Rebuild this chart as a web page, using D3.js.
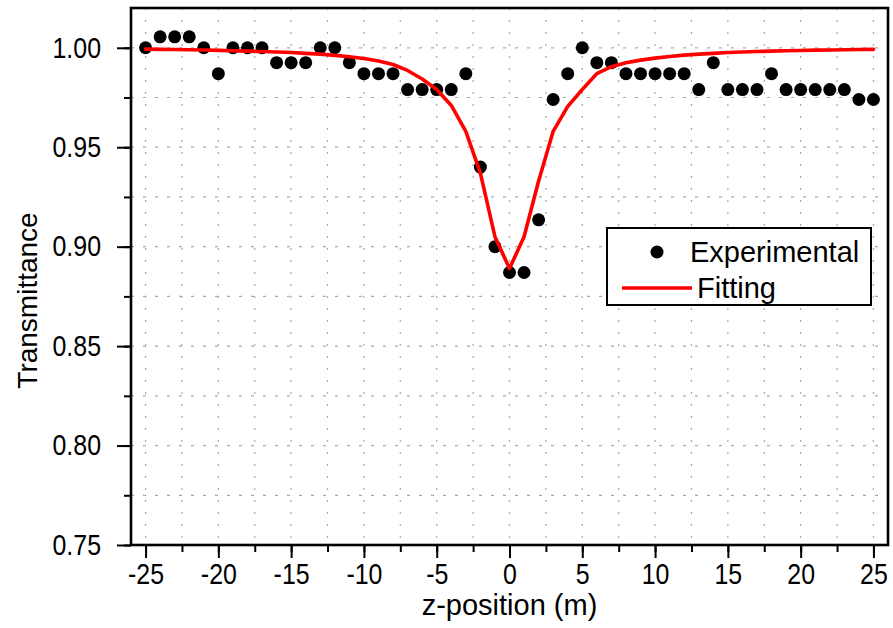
<!DOCTYPE html>
<html>
<head>
<meta charset="utf-8">
<script src="https://cdn.jsdelivr.net/npm/d3@7"></script>
<style>
  html, body { margin: 0; padding: 0; background: #fff; }
  svg { display: block; font-family: "Liberation Sans", Arial, sans-serif; }
</style>
</head>
<body>
<svg id="chart" width="893" height="628"></svg>
<script>
// z-scan positions (m)
const zPositions = d3.range(-25, 26);

// measured transmittance at each z position
const experimental = [
  1.000, 1.0055, 1.0055, 1.0055, 1.000, 0.987, 1.000, 1.000, 1.000, 0.9925,
  0.9925, 0.9925, 1.000, 1.000, 0.9925, 0.987, 0.987, 0.987, 0.979, 0.979,
  0.979, 0.979, 0.987, 0.940, 0.900, 0.887, 0.887, 0.9135, 0.974, 0.987,
  1.000, 0.9925, 0.9925, 0.987, 0.987, 0.987, 0.987, 0.987, 0.979, 0.9925,
  0.979, 0.979, 0.979, 0.987, 0.979, 0.979, 0.979, 0.979, 0.979, 0.974,
  0.974
];

// fitted transmittance at each z position
const fitting = [
  0.9993, 0.9992, 0.9991, 0.9990, 0.9989, 0.9987, 0.9985, 0.9983, 0.9981, 0.9979,
  0.9976, 0.9972, 0.9968, 0.9962, 0.9955, 0.9946, 0.9934, 0.9916, 0.9886, 0.9843,
  0.9790, 0.9710, 0.9580, 0.9370, 0.9050, 0.8890, 0.9050, 0.9330, 0.9580, 0.9705,
  0.9790, 0.9870, 0.9905, 0.9925, 0.9938, 0.9948, 0.9956, 0.9963, 0.9968, 0.9972,
  0.9976, 0.9979, 0.9981, 0.9983, 0.9985, 0.9986, 0.9988, 0.9989, 0.9990, 0.9991,
  0.9992
];

const xMajorTicks = [-25, -20, -15, -10, -5, 0, 5, 10, 15, 20, 25];
const xMinorTicks = d3.range(-25, 25.01, 2.5);
const yMajorTicks = [0.75, 0.80, 0.85, 0.90, 0.95, 1.00];
const yMinorTicks = d3.range(0.75, 1.0001, 0.025);

const xTitle = "z-position (m)";
const yTitle = "Transmittance";
const seriesNames = ["Experimental", "Fitting"];

const svg = d3.select("#chart");
const plotL = 131, plotR = 888, plotT = 8, plotB = 545;
const tickFont = 29, tickSqueeze = 0.86;

const x = d3.scaleLinear().domain([-26, 26]).range([plotL, plotR]);
const y = d3.scaleLinear().domain([0.75, 1.02]).range([plotB, plotT]);

// dotted grid at every major and minor tick
const grid = svg.append("g");
grid.selectAll("line.gx").data(xMinorTicks).join("line")
  .attr("x1", d => x(d)).attr("x2", d => x(d))
  .attr("y1", plotT).attr("y2", plotB)
  .attr("stroke", "#aaaaaa").attr("stroke-width", 1.2)
  .attr("stroke-dasharray", "2,10");
grid.selectAll("line.gy").data(yMinorTicks).join("line")
  .attr("x1", plotL).attr("x2", plotR)
  .attr("y1", d => y(d)).attr("y2", d => y(d))
  .attr("stroke", "#aaaaaa").attr("stroke-width", 1.2)
  .attr("stroke-dasharray", "3,9");

// bottom axis: major ticks with labels, minor ticks without
const fmtX = d => String(d).replace("\u2212", "-");
svg.append("g").attr("transform", `translate(0,${plotB})`)
  .call(d3.axisBottom(x).tickValues(xMinorTicks).tickFormat("").tickSize(7).tickSizeOuter(0))
  .call(g => g.select(".domain").remove())
  .call(g => g.selectAll("line").attr("stroke", "#000").attr("stroke-width", 2));
svg.append("g").attr("transform", `translate(0,${plotB})`)
  .call(d3.axisBottom(x).tickValues(xMajorTicks).tickFormat(fmtX).tickSize(13).tickPadding(5).tickSizeOuter(0))
  .call(g => g.select(".domain").remove())
  .call(g => g.selectAll("line").attr("stroke", "#000").attr("stroke-width", 2))
  .call(g => g.selectAll("text").attr("font-size", tickFont).attr("fill", "#000")
    .attr("font-family", "'Liberation Sans', Arial, sans-serif")
    .attr("transform", `scale(${tickSqueeze},1)`));

// left axis
svg.append("g").attr("transform", `translate(${plotL},0)`)
  .call(d3.axisLeft(y).tickValues(yMinorTicks).tickFormat("").tickSize(7).tickSizeOuter(0))
  .call(g => g.select(".domain").remove())
  .call(g => g.selectAll("line").attr("stroke", "#000").attr("stroke-width", 2));
svg.append("g").attr("transform", `translate(${plotL},0)`)
  .call(d3.axisLeft(y).tickValues(yMajorTicks).tickFormat(d3.format(".2f")).tickSize(14).tickPadding(0).tickSizeOuter(0))
  .call(g => g.select(".domain").remove())
  .call(g => g.selectAll("line").attr("stroke", "#000").attr("stroke-width", 2))
  .call(g => g.selectAll("text").attr("font-size", tickFont).attr("fill", "#000")
    .attr("font-family", "'Liberation Sans', Arial, sans-serif")
    .attr("x", -30 / tickSqueeze)
    .attr("transform", `scale(${tickSqueeze},1)`));

// plot frame
svg.append("rect")
  .attr("x", plotL).attr("y", plotT)
  .attr("width", plotR - plotL).attr("height", plotB - plotT)
  .attr("fill", "none").attr("stroke", "#000").attr("stroke-width", 2.6);

// axis titles
svg.append("text")
  .attr("x", (plotL + plotR) / 2).attr("y", 615)
  .attr("text-anchor", "middle").attr("font-size", 29)
  .text(xTitle);
svg.append("text")
  .attr("transform", `translate(37,${(plotT + plotB) / 2 + 24}) rotate(-90)`)
  .attr("text-anchor", "middle").attr("font-size", 28)
  .text(yTitle);

const points = zPositions.map((z, i) => ({ z, t: experimental[i] }));
const fitPoints = zPositions.map((z, i) => ({ z, t: fitting[i] }));

// experimental points
svg.append("g").selectAll("circle").data(points).join("circle")
  .attr("cx", d => x(d.z)).attr("cy", d => y(d.t)).attr("r", 6.5)
  .attr("fill", "#000");

// fitted curve
svg.append("path").datum(fitPoints)
  .attr("d", d3.line().x(d => x(d.z)).y(d => y(d.t)))
  .attr("fill", "none").attr("stroke", "#ff0000").attr("stroke-width", 3.6)
  .attr("stroke-linejoin", "round").attr("stroke-linecap", "round");

// legend
const lg = svg.append("g").attr("transform", "translate(607,228)");
lg.append("rect").attr("width", 264).attr("height", 77)
  .attr("fill", "#fff").attr("stroke", "#000").attr("stroke-width", 2);
lg.append("circle").attr("cx", 50).attr("cy", 24).attr("r", 6.5).attr("fill", "#000");
lg.append("text").attr("x", 83).attr("y", 24).attr("dy", "0.35em")
  .attr("font-size", 29).text(seriesNames[0]);
lg.append("line").attr("x1", 15).attr("x2", 85).attr("y1", 60).attr("y2", 60)
  .attr("stroke", "#ff0000").attr("stroke-width", 3.6);
lg.append("text").attr("x", 90).attr("y", 60).attr("dy", "0.35em")
  .attr("font-size", 29).text(seriesNames[1]);
</script>
</body>
</html>
